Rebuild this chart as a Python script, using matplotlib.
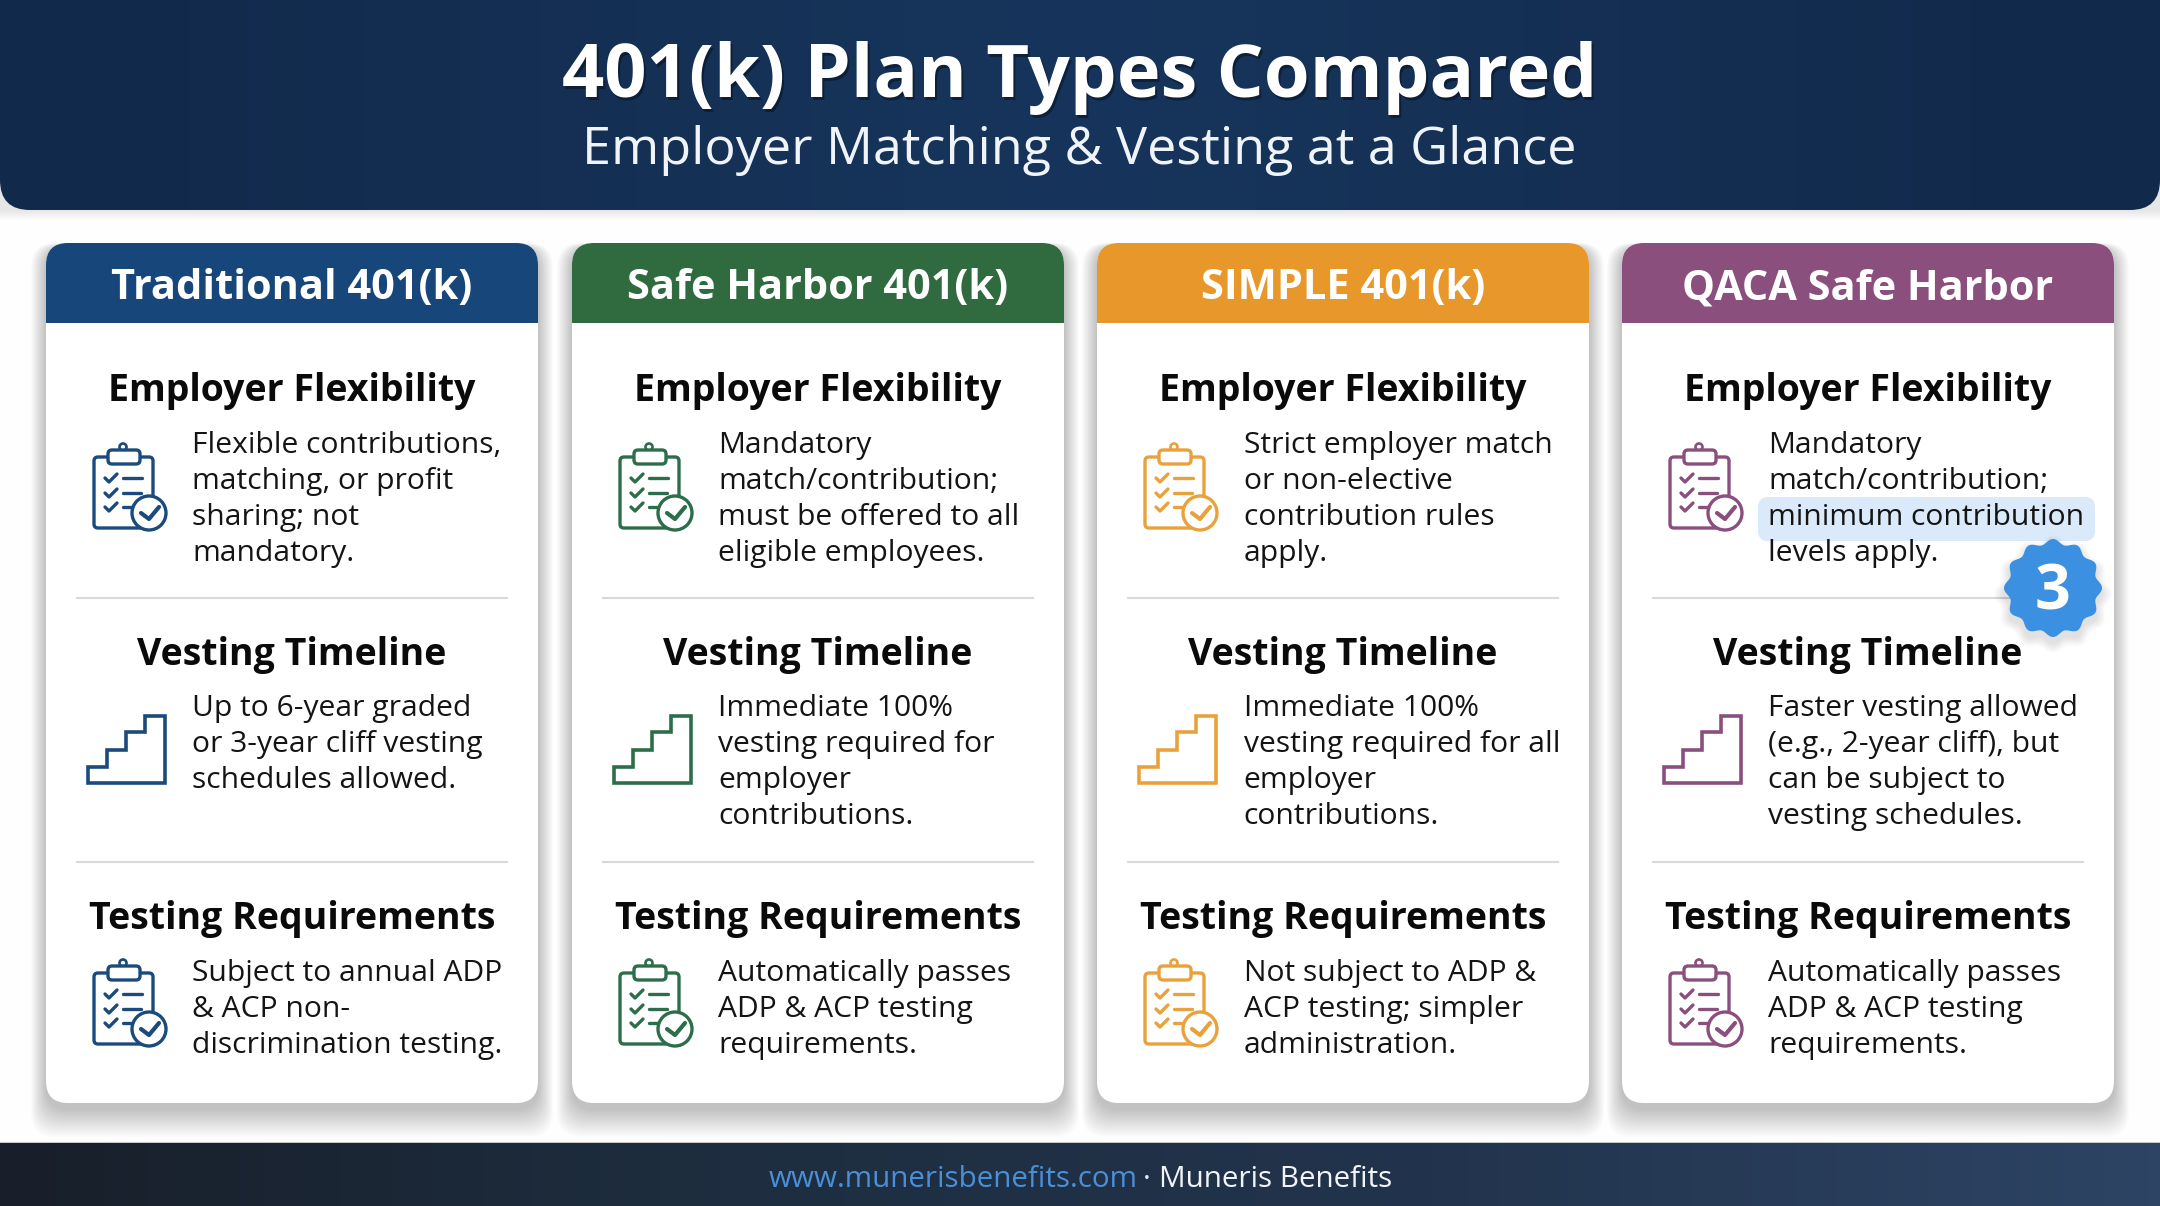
import numpy as np
import matplotlib
matplotlib.use("Agg")
import matplotlib.pyplot as plt
from matplotlib.patches import FancyBboxPatch, Rectangle, Circle, Polygon
from matplotlib.colors import LinearSegmentedColormap

plt.rcParams['font.family'] = ['Open Sans', 'DejaVu Sans']

TITLE = "401(k) Plan Types Compared"
SUBTITLE = "Employer Matching & Vesting at a Glance"
FOOT_URL = "www.munerisbenefits.com"
FOOT_NAME = "Muneris Benefits"
PLANS = ["Traditional 401(k)", "Safe Harbor 401(k)", "SIMPLE 401(k)", "QACA Safe Harbor"]
HEAD_COLORS = ["#17477a", "#2f6b3e", "#e8982a", "#8a4f7d"]
ICON_COLORS = ["#1b4a7c", "#2c6e49", "#e9a23b", "#8a4f7d"]
SECTIONS = ["Employer Flexibility", "Vesting Timeline", "Testing Requirements"]
FLEX = [
    ["Flexible contributions,", "matching, or profit", "sharing; not", "mandatory."],
    ["Mandatory", "match/contribution;", "must be offered to all", "eligible employees."],
    ["Strict employer match", "or non-elective", "contribution rules", "apply."],
    ["Mandatory", "match/contribution;", "minimum contribution", "levels apply."],
]
VEST = [
    ["Up to 6-year graded", "or 3-year cliff vesting", "schedules allowed."],
    ["Immediate 100%", "vesting required for", "employer", "contributions."],
    ["Immediate 100%", "vesting required for all", "employer", "contributions."],
    ["Faster vesting allowed", "(e.g., 2-year cliff), but", "can be subject to", "vesting schedules."],
]
TEST = [
    ["Subject to annual ADP", "& ACP non-", "discrimination testing."],
    ["Automatically passes", "ADP & ACP testing", "requirements."],
    ["Not subject to ADP &", "ACP testing; simpler", "administration."],
    ["Automatically passes", "ADP & ACP testing", "requirements."],
]
CARD_LEFT = [46, 572, 1097, 1622]
BADGE = "3"

W, H = 2160, 1206
fig = plt.figure(figsize=(21.6, 12.06), dpi=100, facecolor="#fefefe")
ax = fig.add_axes([0, 0, 1, 1])
ax.set_xlim(0, W); ax.set_ylim(H, 0); ax.axis("off")


def rbox(x0, y0, x1, y1, r, **kw):
    p = FancyBboxPatch((x0 + r, y0 + r), x1 - x0 - 2 * r, y1 - y0 - 2 * r,
                       boxstyle=f"round,pad={r},rounding_size={r}", **kw)
    ax.add_patch(p)
    return p


def gradient(x0, y0, x1, y1, colors, clip=None, z=1):
    cmap = LinearSegmentedColormap.from_list("g", colors)
    im = ax.imshow(np.linspace(0, 1, 256).reshape(1, -1), extent=(x0, x1, y1, y0),
                   cmap=cmap, aspect="auto", zorder=z, interpolation="bilinear")
    if clip is not None:
        im.set_clip_path(clip)
    ax.set_xlim(0, W); ax.set_ylim(H, 0)
    return im


# header band
for i in range(8):
    rbox(-40, -60, W + 40, 211 + i * 1.2, 30, fc="#000000", ec="none", alpha=0.012, zorder=1)
hclip = rbox(0, -60, W, 210, 30, fc="none", ec="none", zorder=2)
gradient(0, 0, W, 210, ["#11294a", "#17355c", "#11294a"], clip=hclip, z=2)
ax.text(1082, 100, TITLE, fontsize=53.4, fontweight="bold", color="#000000", alpha=0.35,
        ha="center", va="baseline", zorder=3)
ax.text(1080, 97, TITLE, fontsize=53.4, fontweight="bold", color="white",
        ha="center", va="baseline", zorder=4)
ax.text(1079, 164, SUBTITLE, fontsize=37.5, color="#f0f4f8", ha="center", va="baseline", zorder=4)

# footer band
gradient(0, 1143, W, H, ["#181f2a", "#1e2e40", "#22344d", "#2d4464"], z=2)
ax.add_patch(Rectangle((0, 1141.5), W, 1.5, fc="#c8c8c8", ec="none", zorder=2))
ax.text(769, 1187, FOOT_URL, fontsize=21.3, color="#4a8fd8", ha="left", va="baseline", zorder=4)
ax.text(1147, 1187, "·", fontsize=21.3, color="#e6e9ee", ha="center", va="baseline", zorder=4)
ax.text(1159, 1187, FOOT_NAME, fontsize=21.3, color="#f2f4f7", ha="left", va="baseline", zorder=4)


def clipboard(x, y, c):
    lw = 2.4
    z = 6
    rbox(x, y + 7, x + 59, y + 78, 4, fc="none", ec=c, lw=lw, zorder=z)
    ax.add_patch(Circle((x + 29, y - 3), 3.5, fc="white", ec=c, lw=lw * 0.8, zorder=z))
    rbox(x + 14, y, x + 46, y + 14, 4, fc="white", ec=c, lw=lw, zorder=z)
    for dy, xe in zip((28, 43, 57), (48, 47, 39)):
        ax.plot([x + 11, x + 15, x + 23], [y + dy, y + dy + 4, y + dy - 4], color=c, lw=lw,
                solid_capstyle="round", solid_joinstyle="round", zorder=z)
        ax.plot([x + 29, x + xe], [y + dy, y + dy], color=c, lw=lw, solid_capstyle="round", zorder=z)
    ax.add_patch(Circle((x + 55, y + 63), 17, fc="white", ec=c, lw=lw, zorder=z + 1))
    ax.plot([x + 47, x + 55, x + 65], [y + 63, y + 69, y + 57], color=c, lw=lw + 0.6,
            solid_capstyle="round", solid_joinstyle="round", zorder=z + 2)


def stairs(x, y, c):
    sx = [0, 0, 19, 19, 38, 38, 57, 57, 77, 77]
    sy = [67, 51, 51, 34, 34, 16, 16, 0, 0, 67]
    ax.add_patch(Polygon(np.c_[x + np.array(sx), y + np.array(sy)], closed=True, fc="none",
                         ec=c, lw=2.6, joinstyle="miter", zorder=6))


SEC_BASE = [401.5, 664.5, 929.5]
LINE_BASE = [453, 716, 981]
CW, CT, CB, HB = 492, 243, 1103, 323

for i, x0 in enumerate(CARD_LEFT):
    x1 = x0 + CW
    cx = (x0 + x1) / 2
    for k in range(20):
        g = 20 - k
        rbox(x0 - g * 0.75, CT + 4 - g * 0.2, x1 + g * 0.75, CB + 6 + g * 1.4, 24,
             fc="#000000", ec="none", alpha=0.011, zorder=2.5)
    rbox(x0, CT, x1, CB, 22, fc="white", ec="none", zorder=3)
    hp = rbox(x0, CT, x1, CT + 120, 22, fc=HEAD_COLORS[i], ec="none", zorder=4)
    hp.set_clip_path(Rectangle((x0 - 2, CT - 2), CW + 4, HB - CT + 2, transform=ax.transData))
    ax.text(cx, 299, PLANS[i], fontsize=29.9, fontweight="bold", color="white",
            ha="center", va="baseline", zorder=5)
    for yd in (598, 862):
        ax.plot([x0 + 31, x1 - 31], [yd, yd], color="#d9d9d9", lw=1.5, zorder=4)
    blocks = (FLEX[i], VEST[i], TEST[i])
    for s, lines in enumerate(blocks):
        ax.text(cx, SEC_BASE[s], SECTIONS[s], fontsize=27, fontweight="bold", color="#0a0a0a",
                ha="center", va="baseline", zorder=5)
        for j, ln in enumerate(lines):
            ax.text(x0 + 146.5, LINE_BASE[s] + 36 * j, ln, fontsize=21.6, color="#141414",
                    ha="left", va="baseline", zorder=7)
    clipboard(x0 + 48, 450, ICON_COLORS[i])
    stairs(x0 + 42, 716, ICON_COLORS[i])
    clipboard(x0 + 48, 966, ICON_COLORS[i])

# highlight on the QACA card
rbox(1758, 497, 2095, 541, 10, fc="#dbeafa", ec="none", zorder=5)

# badge
th = np.linspace(0, 2 * np.pi, 361)
rad = 46.5 + 2.5 * np.cos(12 * th)
for k in range(10):
    ax.add_patch(Polygon(np.c_[2053 + (rad + 10 - k) * np.cos(th), 594 + (rad + 10 - k) * np.sin(th)],
                         closed=True, fc="black", ec="none", alpha=0.012, zorder=8))
ax.add_patch(Polygon(np.c_[2053 + rad * np.cos(th), 588 + rad * np.sin(th)], closed=True,
                     fc="#3b90e2", ec="none", zorder=9))
ax.text(2052, 610, BADGE, fontsize=45, fontweight="bold", color="white",
        ha="center", va="baseline", zorder=10)

fig.savefig("out.png", dpi=100, facecolor=fig.get_facecolor())
